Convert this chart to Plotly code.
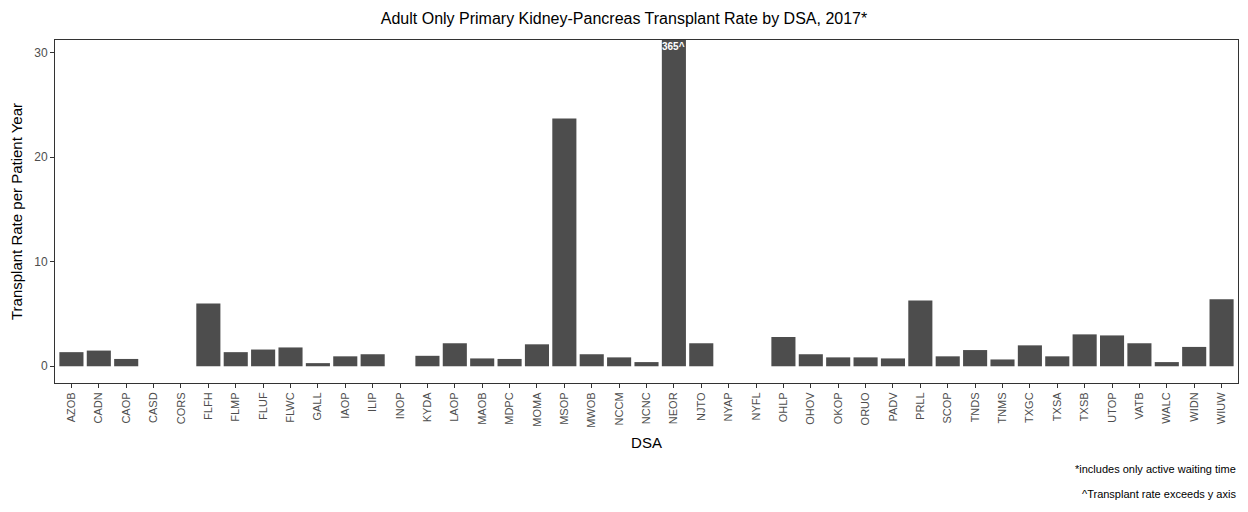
import plotly.graph_objects as go

dsa = ["AZOB","CADN","CAOP","CASD","CORS","FLFH","FLMP","FLUF","FLWC","GALL","IAOP","ILIP","INOP","KYDA","LAOP","MAOB","MDPC","MOMA","MSOP","MWOB","NCCM","NCNC","NEOR","NJTO","NYAP","NYFL","OHLP","OHOV","OKOP","ORUO","PADV","PRLL","SCOP","TNDS","TNMS","TXGC","TXSA","TXSB","UTOP","VATB","WALC","WIDN","WIUW"]
rate = [1.35,1.5,0.7,0,0,6.0,1.35,1.6,1.8,0.3,0.95,1.15,0,1.0,2.2,0.75,0.7,2.1,23.7,1.15,0.85,0.4,365,2.2,0,0,2.8,1.15,0.85,0.85,0.75,6.3,0.95,1.55,0.65,2.0,0.95,3.05,2.95,2.2,0.4,1.85,6.4]
cap = 31.2
shown = [min(v, cap) for v in rate]

fig = go.Figure(go.Bar(x=dsa, y=shown, marker=dict(color="#4d4d4d", line=dict(width=0)), width=0.88))
ann = [dict(x=d, y=cap, yanchor="top", text=f"<b>{v:g}^</b>", showarrow=False, yshift=1,
            font=dict(color="white", size=10)) for d, v in zip(dsa, rate) if v > cap]
ann += [
    dict(text="*includes only active waiting time", xref="paper", yref="paper", x=1, y=-0.25, xanchor="right",
         yanchor="middle", showarrow=False, font=dict(size=11, color="black")),
    dict(text="^Transplant rate exceeds y axis", xref="paper", yref="paper", x=1, y=-0.325, xanchor="right",
         yanchor="middle", showarrow=False, font=dict(size=11, color="black")),
]
fig.update_layout(
    width=1232, height=496, plot_bgcolor="white", paper_bgcolor="white",
    margin=dict(l=47, r=2, t=32, b=121, autoexpand=False),
    title=dict(text="Adult Only Primary Kidney-Pancreas Transplant Rate by DSA, 2017*", x=0.5, y=0.99,
               font=dict(size=16, color="black", family="Liberation Sans")),
    font=dict(family="Liberation Sans", color="#4d4d4d"),
    showlegend=False,
    xaxis=dict(title=dict(text="DSA", font=dict(size=15, color="black"), standoff=10), tickangle=-90,
               showline=True, linecolor="#333", mirror=True, ticks="outside", ticklen=4, tickcolor="#333",
               tickfont=dict(size=11), showgrid=False, range=[-0.6, 42.6], automargin=False),
    yaxis=dict(title=dict(text="Transplant Rate per Patient Year", font=dict(size=15, color="black"), standoff=8),
               range=[-1.6, cap], tickvals=[0,10,20,30], showline=True, linecolor="#333", mirror=True,
               ticks="outside", ticklen=4, tickcolor="#333", tickfont=dict(size=12), showgrid=False,
               zeroline=False, automargin=False),
    annotations=ann)
fig.write_html("out.html")
